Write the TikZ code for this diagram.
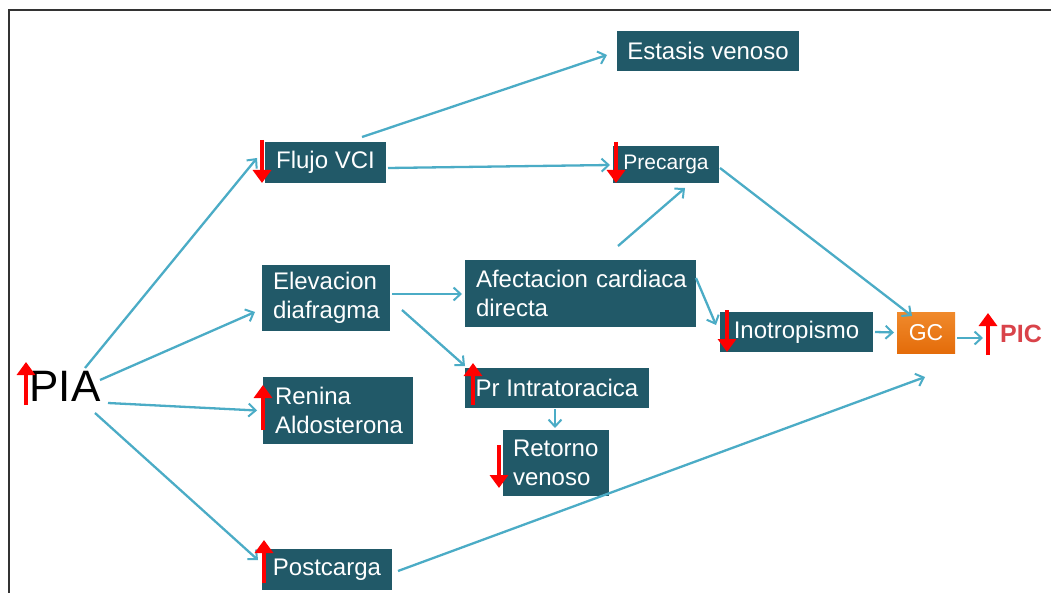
\documentclass[tikz,border=0pt]{standalone}
\usepackage{fontspec}
\setmainfont{Liberation Sans}
\usetikzlibrary{arrows.meta,calc}
\definecolor{boxfill}{HTML}{215968}
\definecolor{conncol}{HTML}{4BACC6}
\definecolor{gcfill}{HTML}{F08A2C}
\definecolor{gcdark}{HTML}{E46C0A}
\definecolor{piccol}{HTML}{D9434A}
\tikzset{
  box/.style={fill=boxfill, text=white, inner sep=0pt, font=\fontsize{24}{29}\selectfont},
  mbox/.style={box, align=left, inner xsep=11pt},
  conn/.style={draw=conncol, line width=2.3pt, -{Straight Barb[length=7pt,width=13pt,line width=2pt]}},
  redarr/.style={draw=red, line width=4.2pt, -{Triangle[length=13pt,width=18pt]}},
}
\begin{document}
\begin{tikzpicture}[x=1pt,y=-1pt]
\useasboundingbox (0,0) rectangle (1051,593);
\fill[white] (0,0) rectangle (1051,593);
\draw[black!80, line width=1.6pt] (9,593) -- (9,10) -- (1051,10);
% nodes
\node[box, minimum width=182, minimum height=40] (est) at (708,51) {Estasis venoso};
\node[box, minimum width=121, minimum height=41] (flujo) at (325.5,162.5) {Flujo VCI};
\node[box, minimum width=106, minimum height=37, font=\fontsize{21}{24}\selectfont] (prec) at (666,164.5) {Precarga};
\node[mbox, text width=106, minimum height=66] (elev) at (326,298) {\mbox{Elevacion}\\\mbox{diafragma}};
\node[mbox, text width=209, minimum height=67] (afec) at (580.5,293.5) {\mbox{Afectacion cardiaca}\\directa};
\node[box, minimum width=153, minimum height=40] (ino) at (796.5,332) {Inotropismo};
\node[top color=gcfill, bottom color=gcdark, text=white, inner sep=0pt, minimum width=58, minimum height=41, font=\fontsize{23}{28}\selectfont] (gc) at (926,332.5) {GC};
\node[mbox, text width=126, inner xsep=12pt, minimum height=67] (ren) at (338,410.5) {\mbox{Renina}\\\mbox{Aldosterona}};
\node[box, minimum width=184, minimum height=40] (pri) at (557,388) {Pr Intratoracica};
\node[mbox, text width=86, inner xsep=10pt, minimum height=66] (ret) at (556,463) {\mbox{Retorno}\\\mbox{venoso}};
\node[box, minimum width=130, minimum height=41] (post) at (327,569.5) {Postcarga};
\node[inner sep=0pt, font=\fontsize{44}{44}\selectfont, text=black] (pia) at (65,386) {PIA};
\node[inner sep=0pt, font=\bfseries\fontsize{25}{25}\selectfont, text=piccol] (pic) at (1021,334) {PIC};
% connectors
\draw[conn] ([shift={(20,-18)}]pia.center) -- ([shift={(-68.5,-4.5)}]flujo.center);
\draw[conn] ([shift={(35,-6)}]pia.center) -- ([shift={(-71,14)}]elev.center);
\draw[conn] ([shift={(43,17)}]pia.center) -- ([shift={(-81,0)}]ren.center);
\draw[conn] ([shift={(30,27)}]pia.center) -- ([shift={(-69,-9.5)}]post.center);
\draw[conn] ([shift={(36.5,-25.5)}]flujo.center) -- ([shift={(-101,4)}]est.center);
\draw[conn] ([shift={(62.5,5.5)}]flujo.center) -- ([shift={(-56,0.5)}]prec.center);
\draw[conn] ([shift={(54,3.5)}]prec.center) -- ([shift={(-14,-16.5)}]gc.center);
\draw[conn] ([shift={(37.5,-47.5)}]afec.center) -- ([shift={(19,23.5)}]prec.center);
\draw[conn] ([shift={(66,-4)}]elev.center) -- ([shift={(-118.5,0.5)}]afec.center);
\draw[conn] ([shift={(76,12)}]elev.center) -- ([shift={(-92,-22)}]pri.center);
\draw[conn] ([shift={(115.5,-15.5)}]afec.center) -- ([shift={(-80.5,-7)}]ino.center);
\draw[conn] ([shift={(78.5,0)}]ino.center) -- ([shift={(-32,0)}]gc.center);
\draw[conn] ([shift={(31,5.5)}]gc.center) -- ([shift={(-38,4)}]pic.center);
\draw[conn] ([shift={(-2,21)}]pri.center) -- ([shift={(-1,-35)}]ret.center);
\draw[conn] ([shift={(71,1.5)}]post.center) -- ([shift={(-1,44.5)}]gc.center);
% red arrows
\draw[redarr] ([shift={(-39,19)}]pia.center) -- ([shift={(-39,-24)}]pia.center);
\draw[redarr] ([shift={(-63.5,-22.5)}]flujo.center) -- ([shift={(-63.5,20.5)}]flujo.center);
\draw[redarr] ([shift={(-50,-22.5)}]prec.center) -- ([shift={(-50,18.5)}]prec.center);
\draw[redarr] ([shift={(-75,19.5)}]ren.center) -- ([shift={(-75,-25.5)}]ren.center);
\draw[redarr] ([shift={(-84,17)}]pri.center) -- ([shift={(-84,-25)}]pri.center);
\draw[redarr] ([shift={(-57,-18)}]ret.center) -- ([shift={(-57,25)}]ret.center);
\draw[redarr] ([shift={(-69.5,-22)}]ino.center) -- ([shift={(-69.5,20)}]ino.center);
\draw[redarr] ([shift={(-63,13.5)}]post.center) -- ([shift={(-63,-29.5)}]post.center);
\draw[redarr] ([shift={(-33,21)}]pic.center) -- ([shift={(-33,-21)}]pic.center);
\end{tikzpicture}
\end{document}
